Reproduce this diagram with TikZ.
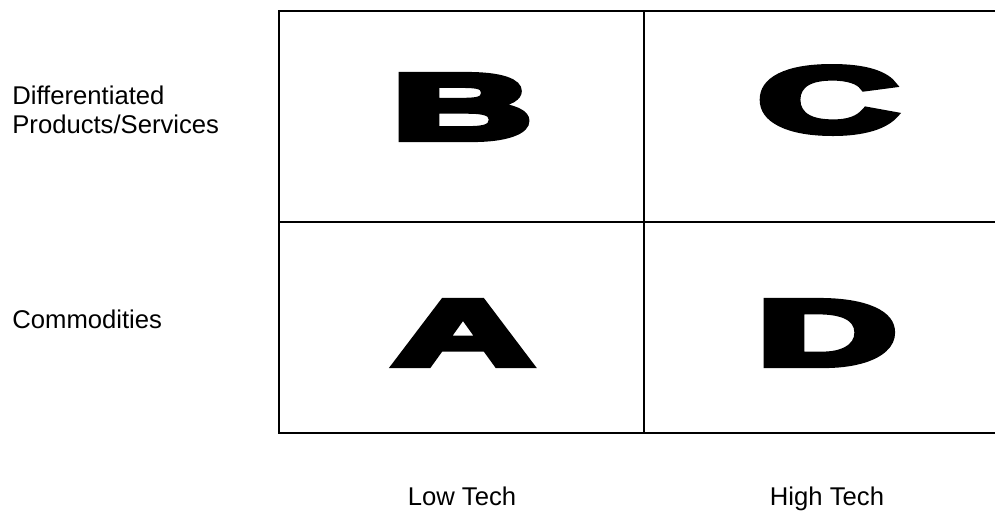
\documentclass[tikz,border=0pt]{standalone}
\usepackage{fontspec}
\setmainfont{Liberation Sans}
\newfontfamily\letterfont[FakeBold=6.5]{Liberation Sans Bold}
\usepackage{graphicx}
\usetikzlibrary{positioning,calc}
\newcommand{\cellletter}[1]{\scalebox{2.08}[1]{\letterfont\fontsize{53}{53}\selectfont #1}}
\tikzset{
  gridline/.style={draw, line width=1.1pt},
  axislbl/.style={font=\fontsize{14.6}{16.4}\selectfont, align=left, inner sep=0pt},
  ticklbl/.style={font=\fontsize{14.6}{16.4}\selectfont, inner sep=0pt, anchor=base},
  bigltr/.style={inner sep=0pt},
}
\begin{document}
\begin{tikzpicture}[x=0.02cm, y=-0.02cm]
  \useasboundingbox (0,0) rectangle (995,512);
  % matrix frame
  \coordinate (tl) at (279,11);
  \coordinate (tm) at (644,11);
  \coordinate (tr) at (995,11);
  \coordinate (ml) at (279,222);
  \coordinate (mr) at (995,222);
  \coordinate (bl) at (279,433);
  \coordinate (bm) at (644,433);
  \coordinate (br) at (995,433);
  \draw[gridline] (tr) -- (tl) -- (bl) -- (br);
  \draw[gridline] (ml) -- (mr);
  \draw[gridline] (tm) -- (bm);
  % quadrant letters
  \node[bigltr] (qB) at (462,107) {\cellletter{B}};
  \node[bigltr] (qC) at (828,100) {\cellletter{C}};
  \node[bigltr] (qA) at (463,333) {\cellletter{A}};
  \node[bigltr] (qD) at (827,333) {\cellletter{D}};
  % axis labels
  \node[axislbl, anchor=west] (diff) at (12,110) {Differentiated\\Products/Services};
  \node[axislbl, anchor=west] (comm) at (12,319) {Commodities};
  \node[ticklbl] (low) at (462,505) {Low Tech};
  \node[ticklbl] (high) at (827,505) {High Tech};
\end{tikzpicture}
\end{document}
